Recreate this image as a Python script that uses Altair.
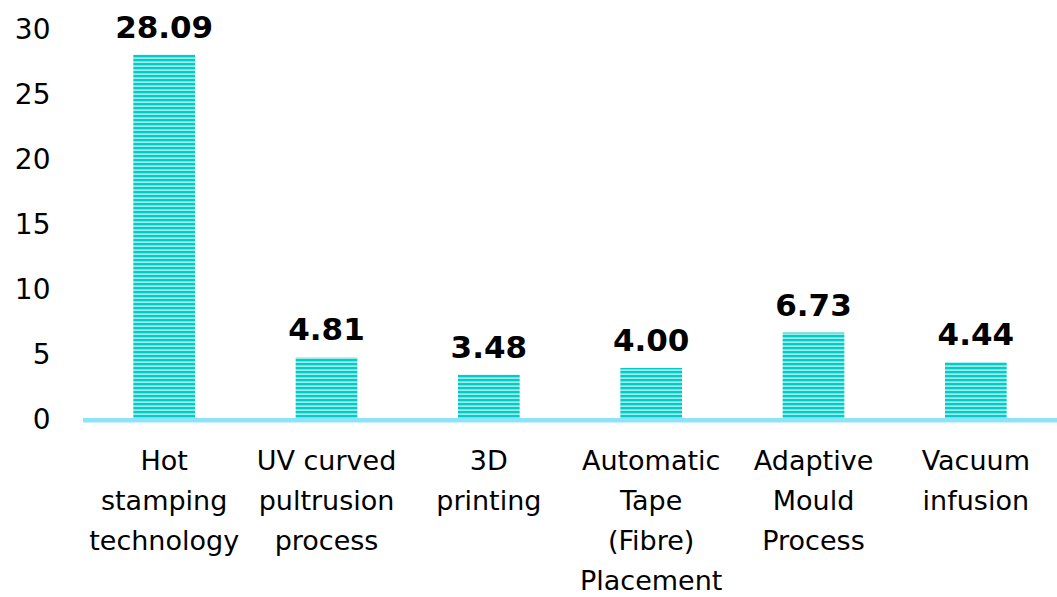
import altair as alt
import pandas as pd

categories = ["Hot|stamping|technology", "UV curved|pultrusion|process", "3D|printing",
              "Automatic|Tape|(Fibre)|Placement", "Adaptive|Mould|Process", "Vacuum|infusion"]
values = [28.09, 4.81, 3.48, 4.00, 6.73, 4.44]
y_ticks = [0, 5, 10, 15, 20, 25, 30]

df = pd.DataFrame({"cat": categories, "value": values})
df["label"] = df["value"].map(lambda v: f"{v:.2f}")

FONT = "DejaVu Sans"

x = alt.X("cat:N", sort=categories, title=None,
          scale=alt.Scale(paddingInner=0.62, paddingOuter=0.31),
          axis=alt.Axis(labelAngle=0, labelExpr="split(datum.label, '|')",
                        labelFontSize=27, labelFont=FONT, labelColor="black",
                        labelLineHeight=40, labelPadding=28, ticks=False,
                        domainColor="#8FE3F7", domainWidth=4, labelBaseline="top"))
y = alt.Y("value:Q", title=None,
          scale=alt.Scale(domain=[0, 30], nice=False),
          axis=alt.Axis(values=y_ticks, grid=False, ticks=False, domain=False,
                        labelFontSize=28, labelFont=FONT, labelColor="black",
                        labelPadding=33))

bars = alt.Chart(df).mark_bar(color="#00CCC8").encode(x=x, y=y)

stripes = alt.Chart(alt.sequence(0.15, 30, 0.3077, as_="s")).mark_rule(
    color="white", opacity=0.6, strokeWidth=1.7
).encode(y=alt.Y("s:Q"), x=alt.value(0), x2=alt.value(974))

base = alt.Chart(df).mark_rule(color="#8FE3F7", strokeWidth=4).encode(
    y=alt.datum(0), x=alt.value(0), x2=alt.value(974))

text = alt.Chart(df).mark_text(fontSize=31, fontWeight="bold", font=FONT,
                               baseline="alphabetic", dy=-17, color="black").encode(
    x=alt.X("cat:N", sort=categories), y="value:Q", text="label:N")

chart = alt.layer(bars, stripes, base, text).properties(
    width=974, height=390,
    autosize=alt.AutoSizeParams(type="none"),
    padding={"left": 83, "top": 30, "right": 0, "bottom": 177},
).configure_view(stroke=None)

chart.save("out.html", embed_options={"renderer": "svg", "actions": False})
